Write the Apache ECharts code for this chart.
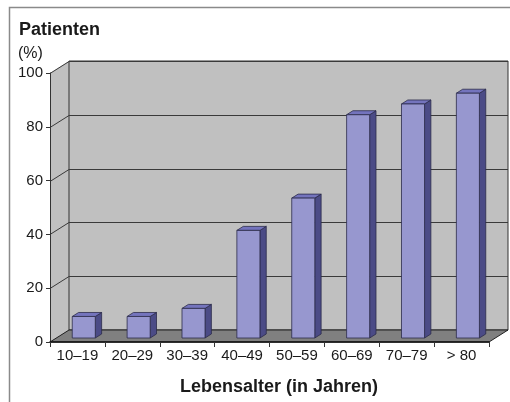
<!DOCTYPE html>
<html>
<head>
<meta charset="utf-8">
<script src="https://cdn.jsdelivr.net/npm/echarts@6/dist/echarts.min.js"></script>
<style>
html, body { margin: 0; padding: 0; background: #fff; }
#main { width: 510px; height: 402px; }
</style>
</head>
<body>
<div id="main"></div>
<script>
var categories = ['10–19', '20–29', '30–39', '40–49', '50–59', '60–69', '70–79', '> 80'];
var patients = [8, 8, 11, 40, 52, 83, 87, 91];
var yTicks = [0, 20, 40, 60, 80, 100];

// Tiefe der 3D-Darstellung
var DX = 19, DY = -12;
var FONT = 'Liberation Sans, Arial, sans-serif';

var chart = echarts.init(document.getElementById('main'));

// Rückwand, Seitenwand, Boden und Gitterlinien
function renderWall(params, api) {
    var cs = params.coordSys;
    var gx = cs.x, gy = cs.y, gw = cs.width, gh = cs.height;
    var yBot = gy + gh;
    var children = [];
    children.push({
        type: 'polygon',
        shape: { points: [[gx, gy], [gx + DX, gy + DY], [gx + DX, yBot + DY], [gx, yBot]] },
        style: { fill: '#c0c0c0', stroke: null }
    });
    children.push({
        type: 'rect',
        shape: { x: gx + DX, y: gy + DY, width: gw, height: gh },
        style: { fill: '#c0c0c0', stroke: '#333', lineWidth: 1 }
    });
    yTicks.forEach(function (t) {
        var p = api.coord([0, t]);
        var yy = Math.round(p[1]) + 0.5;
        children.push({
            type: 'polyline',
            shape: { points: [[gx, yy], [gx + DX, yy + DY], [gx + gw + DX, yy + DY]] },
            style: { stroke: '#3a3a3a', lineWidth: 1, fill: null }
        });
    });
    children.push({
        type: 'polygon',
        shape: { points: [[gx, yBot], [gx + DX, yBot + DY], [gx + gw + DX, yBot + DY], [gx + gw, yBot]] },
        style: { fill: '#808080', stroke: '#222', lineWidth: 1 }
    });
    return { type: 'group', children: children };
}

// 3D-Säulen
function renderBar(params, api) {
    var idx = api.value(0), v = api.value(1);
    var base = api.coord([idx, 0]);
    var top = api.coord([idx, v]);
    var bw = api.size([1, 0])[0] * 0.42;
    var dx = DX / 3, dy = DY / 3;
    var x0 = base[0] - bw / 2 + dx, x1 = x0 + bw;
    var y0 = top[1] + dy, y1 = base[1] + dy;
    var edge = { stroke: '#2b2b4a', lineWidth: 0.8 };
    return {
        type: 'group',
        children: [
            { type: 'polygon', shape: { points: [[x1, y0], [x1 + dx, y0 + dy], [x1 + dx, y1 + dy], [x1, y1]] },
              style: Object.assign({ fill: '#4b4b86' }, edge) },
            { type: 'polygon', shape: { points: [[x0, y0], [x1, y0], [x1 + dx, y0 + dy], [x0 + dx, y0 + dy]] },
              style: Object.assign({ fill: '#7474bd' }, edge) },
            { type: 'rect', shape: { x: x0, y: y0, width: bw, height: y1 - y0 },
              style: Object.assign({ fill: '#9797cf' }, edge) }
        ]
    };
}

var option = {
    animation: false,
    grid: { left: 50, right: 21, top: 73, bottom: 60 },
    graphic: [
        { type: 'rect', shape: { x: 9.5, y: 7.5, width: 520, height: 420 },
          style: { fill: null, stroke: '#8a8a8a', lineWidth: 1.5 }, z: 100 },
        { type: 'text', x: 19, y: 30,
          style: { text: 'Patienten', font: 'bold 18px ' + FONT, fill: '#1a1a1a', textVerticalAlign: 'middle' } },
        { type: 'text', x: 18, y: 54,
          style: { text: '(%)', font: '16px ' + FONT, fill: '#1a1a1a', textVerticalAlign: 'middle' } },
        { type: 'text', x: 279, y: 387,
          style: { text: 'Lebensalter (in Jahren)', font: 'bold 18px ' + FONT, fill: '#1a1a1a',
                   textAlign: 'center', textVerticalAlign: 'middle' } }
    ],
    xAxis: {
        type: 'category',
        data: categories,
        z: 10,
        axisLine: { lineStyle: { color: '#111', width: 1.5 } },
        axisTick: { show: true, length: 5, lineStyle: { color: '#333' } },
        axisLabel: { color: '#1a1a1a', fontSize: 15, fontFamily: FONT, margin: 6, interval: 0 }
    },
    yAxis: {
        type: 'value',
        min: 0,
        max: 100,
        interval: 20,
        z: 10,
        axisLine: { show: true, lineStyle: { color: '#333', width: 1 } },
        axisTick: { show: true, length: 4, lineStyle: { color: '#333' } },
        axisLabel: { color: '#1a1a1a', fontSize: 15, fontFamily: FONT, margin: 7 },
        splitLine: { show: false }
    },
    series: [
        {
            type: 'custom',
            renderItem: renderWall,
            data: [[0, 0]],
            clip: false,
            silent: true,
            z: 1
        },
        {
            type: 'custom',
            renderItem: renderBar,
            data: patients.map(function (v, i) { return [i, v]; }),
            clip: false,
            z: 2
        }
    ]
};

chart.setOption(option);
</script>
</body>
</html>
